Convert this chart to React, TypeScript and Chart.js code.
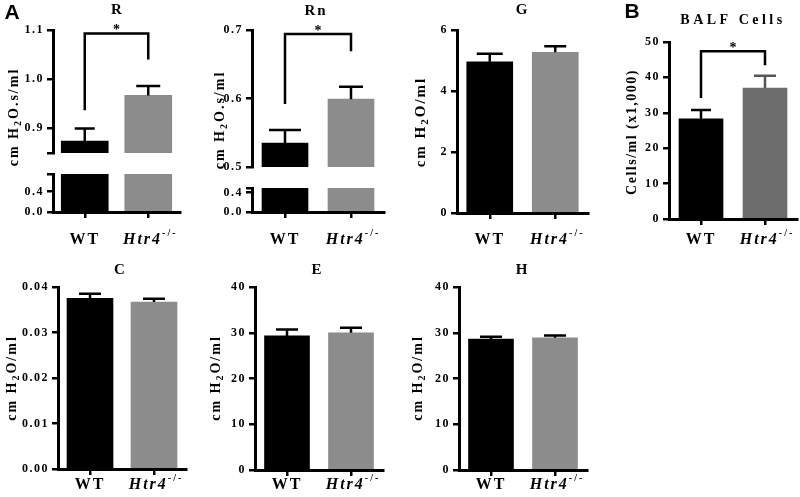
import React, { useEffect, useRef } from "react";
import { Chart, registerables } from "chart.js";
Chart.register(...registerables);

// ---------- data ----------
const CATEGORIES = ["WT", "Htr4-/-"];

const R_MEAN = [0.874, 0.967];
const R_SEM = [0.026, 0.019];
const RN_MEAN = [0.535, 0.599];
const RN_SEM = [0.019, 0.018];
const G_MEAN = [4.96, 5.27];
const G_SEM = [0.26, 0.2];
const BALF_MEAN = [28.3, 37.0];
const BALF_SEM = [2.5, 3.5];
const C_MEAN = [0.0375, 0.0367];
const C_SEM = [0.001, 0.0007];
const E_MEAN = [29.3, 30.0];
const E_SEM = [1.4, 1.1];
const H_MEAN = [28.6, 28.9];
const H_SEM = [0.5, 0.5];

const R_UPPER_TICKS = [0.85, 0.9, 1.0, 1.1];
const R_UPPER_LABELS = ["", "0.9", "1.0", "1.1"];
const R_LOWER_TICKS = [0, 0.4, 0.75];
const R_LOWER_LABELS = ["0.0", "0.4", ""];
const RN_UPPER_TICKS = [0.5, 0.6, 0.7];
const RN_UPPER_LABELS = ["0.5", "0.6", "0.7"];
const RN_LOWER_TICKS = [0, 0.4, 0.49];
const RN_LOWER_LABELS = ["0.0", "0.4", ""];
const G_TICKS = [0, 2, 4, 6];
const G_LABELS = ["0", "2", "4", "6"];
const BALF_TICKS = [0, 10, 20, 30, 40, 50];
const BALF_LABELS = ["0", "10", "20", "30", "40", "50"];
const C_TICKS = [0, 0.01, 0.02, 0.03, 0.04];
const C_LABELS = ["0.00", "0.01", "0.02", "0.03", "0.04"];
const EH_TICKS = [0, 10, 20, 30, 40];
const EH_LABELS = ["0", "10", "20", "30", "40"];

// significance bracket: [bracket level, WT leg end, Htr4 leg end]
const R_SIG = [1.093, 0.937, 1.04];
const RN_SIG = [0.694, 0.592, 0.669];
const BALF_SIG = [47.4, 34.2, 43.4];

// ---------- styling ----------
const SERIF = '"Liberation Serif", "Times New Roman", serif';
const SANS = '"Liberation Sans", Arial, sans-serif';
const BLACK = "#000000";
const GRAY = "#8c8c8c";
const DARKGRAY = "#6d6d6d";
const WY = 36;
const HX = 7;

type Part = { t: string; f: string; dy?: number };
type TextItem = { x: number; y: number; rot?: boolean; sp: number; parts: Part[] };

const yLabelS = (x: number, y: number): TextItem => ({
  x, y, rot: true, sp: 2,
  parts: [
    { t: "cm H", f: `bold 14px ${SERIF}` },
    { t: "2", f: `bold 10px ${SERIF}`, dy: 4 },
    { t: "O.s/ml", f: `bold 14px ${SERIF}` },
  ],
});
const yLabelP = (x: number, y: number, size = 14): TextItem => ({
  x, y, rot: true, sp: 2,
  parts: [
    { t: "cm H", f: `bold ${size}px ${SERIF}` },
    { t: "2", f: `bold ${size - 4}px ${SERIF}`, dy: 4 },
    { t: "O/ml", f: `bold ${size}px ${SERIF}` },
  ],
});
const title = (x: number, y: number, t: string, sp = 1): TextItem => ({
  x, y, sp, parts: [{ t, f: `bold 15px ${SERIF}` }],
});
const letter = (x: number, y: number, t: string): TextItem => ({
  x, y, sp: 0, parts: [{ t, f: `bold 21px ${SANS}` }],
});

type Spec = {
  box: [number, number, number, number];
  L: number; R: number; T: number; B: number;
  showX: boolean;
  min: number; max: number;
  ticks: number[]; labels: string[];
  means: number[]; sems: number[] | null;
  colors: string[]; errColors: string[];
  bar: number; cap: number[];
  sig: number[] | null;
  texts: TextItem[];
  xLabelY: number | null;
};

const SPECS: Spec[] = [
  // R upper
  {
    box: [0, 0, 195, 250], L: 53, R: 180, T: 30, B: 160, showX: false,
    min: 0.85, max: 1.1, ticks: R_UPPER_TICKS, labels: R_UPPER_LABELS,
    means: R_MEAN, sems: R_SEM, colors: [BLACK, GRAY], errColors: [BLACK, BLACK],
    bar: 47, cap: [10, 12], sig: R_SIG,
    texts: [title(117, 10, "R"), letter(12, 13, "A")], xLabelY: null,
  },
  // R lower
  {
    box: [0, 0, 195, 250], L: 53, R: 180, T: 174, B: 212, showX: true,
    min: 0, max: 0.75, ticks: R_LOWER_TICKS, labels: R_LOWER_LABELS,
    means: R_MEAN, sems: null, colors: [BLACK, GRAY], errColors: [BLACK, BLACK],
    bar: 47, cap: [0, 0], sig: null,
    texts: [yLabelS(14, 117)], xLabelY: 240,
  },
  // Rn upper
  {
    box: [195, 0, 195, 250], L: 252, R: 384, T: 30, B: 174, showX: false,
    min: 0.5, max: 0.7, ticks: RN_UPPER_TICKS, labels: RN_UPPER_LABELS,
    means: RN_MEAN, sems: RN_SEM, colors: [BLACK, GRAY], errColors: [BLACK, BLACK],
    bar: 46, cap: [16, 12], sig: RN_SIG,
    texts: [title(316, 11, "Rn", 2)], xLabelY: null,
  },
  // Rn lower
  {
    box: [195, 0, 195, 250], L: 252, R: 384, T: 188, B: 212, showX: true,
    min: 0, max: 0.49, ticks: RN_LOWER_TICKS, labels: RN_LOWER_LABELS,
    means: RN_MEAN, sems: null, colors: [BLACK, GRAY], errColors: [BLACK, BLACK],
    bar: 46, cap: [0, 0], sig: null,
    texts: [yLabelS(220, 120)], xLabelY: 240,
  },
  // G
  {
    box: [395, 0, 200, 250], L: 457, R: 588, T: 30, B: 213, showX: true,
    min: 0, max: 6, ticks: G_TICKS, labels: G_LABELS,
    means: G_MEAN, sems: G_SEM, colors: [BLACK, GRAY], errColors: [BLACK, BLACK],
    bar: 46, cap: [13, 11], sig: null,
    texts: [title(522, 10, "G"), yLabelP(421, 122, 15)], xLabelY: 240,
  },
  // BALF
  {
    box: [600, 0, 200, 250], L: 669, R: 797, T: 42, B: 219, showX: true,
    min: 0, max: 50, ticks: BALF_TICKS, labels: BALF_LABELS,
    means: BALF_MEAN, sems: BALF_SEM, colors: [BLACK, DARKGRAY], errColors: [BLACK, "#555555"],
    bar: 44, cap: [10, 11], sig: BALF_SIG,
    texts: [
      { x: 733, y: 20, sp: 3.5, parts: [{ t: "BALF Cells", f: `bold 14px ${SERIF}` }] },
      letter(632, 12, "B"),
      { x: 632, y: 132, rot: true, sp: 1.5, parts: [{ t: "Cells/ml (x1,000)", f: `bold 14px ${SERIF}` }] },
    ],
    xLabelY: 240,
  },
  // C
  {
    box: [0, 255, 200, 242], L: 58, R: 186, T: 287, B: 469, showX: true,
    min: 0, max: 0.04, ticks: C_TICKS, labels: C_LABELS,
    means: C_MEAN, sems: C_SEM, colors: [BLACK, GRAY], errColors: [BLACK, BLACK],
    bar: 46, cap: [11, 11], sig: null,
    texts: [title(120, 270, "C"), yLabelP(12, 378)], xLabelY: 485,
  },
  // E
  {
    box: [200, 255, 200, 242], L: 255, R: 383, T: 287, B: 470, showX: true,
    min: 0, max: 40, ticks: EH_TICKS, labels: EH_LABELS,
    means: E_MEAN, sems: E_SEM, colors: [BLACK, GRAY], errColors: [BLACK, BLACK],
    bar: 45, cap: [11, 11], sig: null,
    texts: [title(317, 270, "E"), yLabelP(216, 378)], xLabelY: 485,
  },
  // H
  {
    box: [400, 255, 200, 242], L: 459, R: 587, T: 287, B: 470, showX: true,
    min: 0, max: 40, ticks: EH_TICKS, labels: EH_LABELS,
    means: H_MEAN, sems: H_SEM, colors: [BLACK, GRAY], errColors: [BLACK, BLACK],
    bar: 45, cap: [11, 11], sig: null,
    texts: [title(522, 270, "H"), yLabelP(418, 378)], xLabelY: 485,
  },
];

function drawText(ctx: CanvasRenderingContext2D, item: TextItem, ox: number, oy: number) {
  ctx.save();
  ctx.translate(item.x - ox, item.y - oy);
  if (item.rot) ctx.rotate(-Math.PI / 2);
  (ctx as any).letterSpacing = item.sp + "px";
  ctx.textBaseline = "middle";
  ctx.textAlign = "left";
  ctx.fillStyle = "#000";
  const widths = item.parts.map((p) => {
    ctx.font = p.f;
    return ctx.measureText(p.t).width;
  });
  const total = widths.reduce((a, b) => a + b, 0);
  let cx = -total / 2;
  item.parts.forEach((p, i) => {
    ctx.font = p.f;
    ctx.fillText(p.t, cx, p.dy || 0);
    cx += widths[i];
  });
  ctx.restore();
}

function makeChart(canvas: HTMLCanvasElement, s: Spec) {
  const [bx, by, bw, bh] = s.box;
  const overlay = {
    id: "overlay",
    beforeDraw(chart: any) {
      chart.ctx.letterSpacing = "1.5px";
    },
    afterDatasetsDraw(chart: any) {
      const ctx: CanvasRenderingContext2D = chart.ctx;
      const xs = chart.scales.x;
      const ys = chart.scales.y;
      ctx.save();
      ctx.lineCap = "butt";
      if (s.sems) {
        s.means.forEach((m, i) => {
          const px = xs.getPixelForValue(i);
          const base = ys.getPixelForValue(m);
          const top = ys.getPixelForValue(m + (s.sems as number[])[i]);
          ctx.strokeStyle = s.errColors[i];
          ctx.lineWidth = 2.5;
          ctx.beginPath();
          ctx.moveTo(px, base);
          ctx.lineTo(px, top);
          ctx.moveTo(px - s.cap[i], top);
          ctx.lineTo(px + s.cap[i], top);
          ctx.stroke();
        });
      }
      if (s.sig) {
        const x0 = xs.getPixelForValue(0);
        const x1 = xs.getPixelForValue(1);
        const yb = ys.getPixelForValue(s.sig[0]);
        ctx.strokeStyle = "#000";
        ctx.lineWidth = 2.5;
        ctx.lineJoin = "miter";
        ctx.beginPath();
        ctx.moveTo(x0, ys.getPixelForValue(s.sig[1]));
        ctx.lineTo(x0, yb);
        ctx.lineTo(x1, yb);
        ctx.lineTo(x1, ys.getPixelForValue(s.sig[2]));
        ctx.stroke();
        drawText(ctx, { x: (x0 + x1) / 2 + bx, y: yb - 3 + by, sp: 0, parts: [{ t: "*", f: `bold 14px ${SERIF}` }] }, bx, by);
      }
      if (s.xLabelY !== null) {
        const y = s.xLabelY as number;
        const p0 = xs.getPixelForValue(0) + bx;
        const p1 = xs.getPixelForValue(1) + bx;
        drawText(ctx, { x: p0, y, sp: 2, parts: [{ t: "WT", f: `bold 16px ${SERIF}` }] }, bx, by);
        drawText(ctx, {
          x: p1 + 2, y, sp: 2,
          parts: [
            { t: "Htr4", f: `italic bold 16px ${SERIF}` },
            { t: "-/-", f: `bold 10px ${SERIF}`, dy: -7 },
          ],
        }, bx, by);
      }
      s.texts.forEach((t) => drawText(ctx, t, bx, by));
      ctx.restore();
    },
  };

  return new Chart(canvas, {
    type: "bar",
    data: {
      labels: CATEGORIES,
      datasets: [
        {
          data: s.means,
          backgroundColor: s.colors,
          borderWidth: 0,
          barThickness: s.bar,
          clip: 0,
        } as any,
      ],
    },
    options: {
      responsive: false,
      animation: false,
      devicePixelRatio: 1,
      layout: {
        padding: {
          left: s.L - bx - WY,
          right: bx + bw - s.R,
          top: s.T - by,
          bottom: by + bh - s.B - (s.showX ? HX : 0),
        },
      },
      plugins: { legend: { display: false }, tooltip: { enabled: false }, title: { display: false } },
      scales: {
        x: {
          display: s.showX,
          offset: true,
          grid: {
            display: true, offset: false, drawOnChartArea: false, drawTicks: true,
            tickLength: 6, color: "#000", lineWidth: 2.5,
          },
          border: { display: true, color: "#000", width: 3 },
          ticks: { display: false },
          afterFit: (sc: any) => { sc.height = HX; },
        },
        y: {
          min: s.min,
          max: s.max,
          beginAtZero: false,
          afterBuildTicks: (sc: any) => { sc.ticks = s.ticks.map((v) => ({ value: v })); },
          ticks: {
            autoSkip: false,
            callback: (_v: any, i: number) => s.labels[i],
            font: { family: SERIF, weight: "bold", size: 12 },
            color: "#000",
            padding: 3,
          },
          grid: { drawOnChartArea: false, drawTicks: true, tickLength: 6, color: "#000", lineWidth: 2.5 },
          border: { display: true, color: "#000", width: 3 },
          afterFit: (sc: any) => { sc.width = WY; },
        },
      },
    } as any,
    plugins: [overlay],
  });
}

export default function App() {
  const refs = useRef<(HTMLCanvasElement | null)[]>([]);
  useEffect(() => {
    const charts = SPECS.map((s, i) => makeChart(refs.current[i] as HTMLCanvasElement, s));
    return () => charts.forEach((c) => c.destroy());
  }, []);
  return (
    <div style={{ position: "fixed", left: 0, top: 0, width: 800, height: 497, background: "#fff", overflow: "hidden" }}>
      {SPECS.map((s, i) => (
        <canvas
          key={i}
          ref={(el) => { refs.current[i] = el; }}
          width={s.box[2]}
          height={s.box[3]}
          style={{ position: "absolute", left: s.box[0], top: s.box[1], width: s.box[2], height: s.box[3] }}
        />
      ))}
    </div>
  );
}
